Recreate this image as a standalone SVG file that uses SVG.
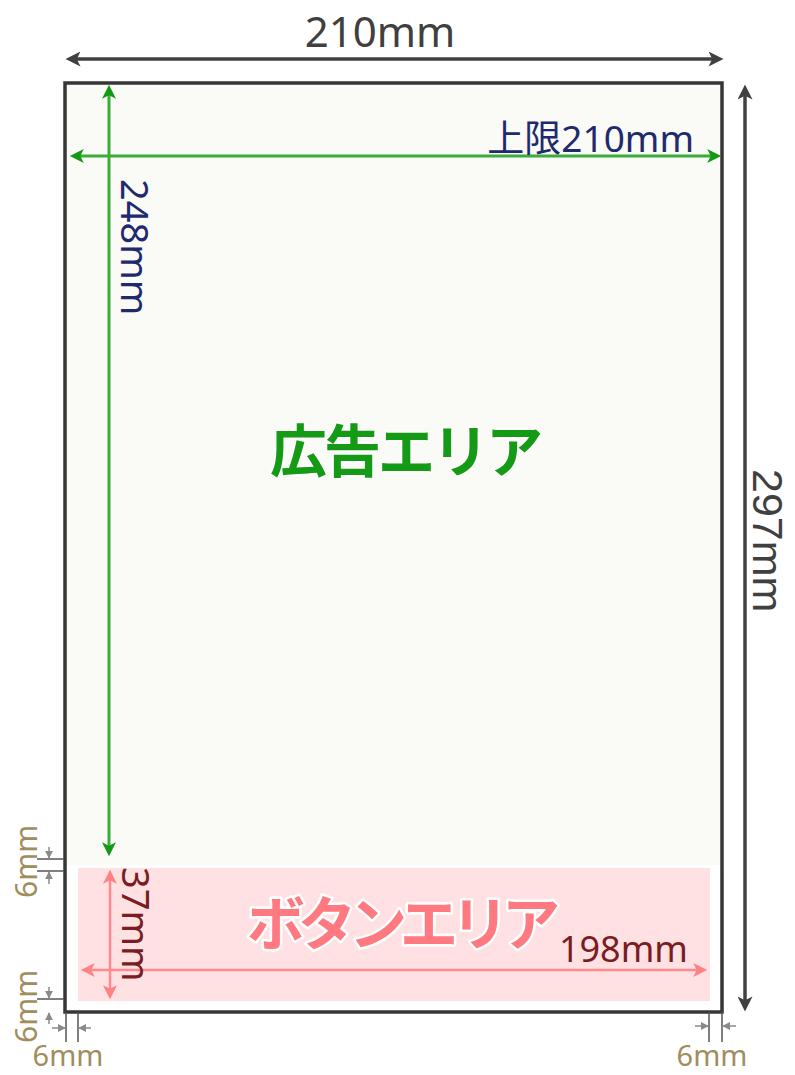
<svg xmlns="http://www.w3.org/2000/svg" width="795" height="1075" viewBox="0 0 795 1075">
<style>
.t{font-family:"Noto Sans","Noto Sans CJK JP",sans-serif}
.dk{fill:#404040}
.nv{fill:#1f2a6e}
.rd{fill:#7a1c22}
.tan{fill:#a08d5c}
.big{font-weight:bold}
</style>
<defs>
<marker id="ahDark" viewBox="0 0 10 10" refX="7" refY="5" markerWidth="17" markerHeight="15" markerUnits="userSpaceOnUse" orient="auto-start-reverse"><path d="M0,0 L10,5 L0,10 L2.5,5 z" fill="#404040"/></marker>
<marker id="ahGreen" viewBox="0 0 10 10" refX="7" refY="5" markerWidth="16" markerHeight="14" markerUnits="userSpaceOnUse" orient="auto-start-reverse"><path d="M0,0 L10,5 L0,10 L2.5,5 z" fill="#139a13"/></marker>
<marker id="ahPink" viewBox="0 0 10 10" refX="7" refY="5" markerWidth="16" markerHeight="14" markerUnits="userSpaceOnUse" orient="auto-start-reverse"><path d="M0,0 L10,5 L0,10 L2.5,5 z" fill="#ff8085"/></marker>
<marker id="ahGray" viewBox="0 0 10 10" refX="9" refY="5" markerWidth="8" markerHeight="8" markerUnits="userSpaceOnUse" orient="auto"><path d="M0,0 L10,5 L0,10 z" fill="#8a8a8a"/></marker>
</defs>

<g id="page">
<rect x="65" y="83" width="657" height="929" fill="#ffffff"/>
<rect x="65" y="83" width="657" height="782" fill="#fafaf6"/>
</g>

<g id="button-area">
<rect x="78" y="868" width="632" height="133" fill="#ffe1e3"/>
</g>

<g id="page-border">
<rect x="65" y="83" width="657" height="929" fill="none" stroke="#363636" stroke-width="3.5"/>
</g>

<g id="connectors" fill="none">
<line x1="70" y1="59" x2="719" y2="59" stroke="#404040" stroke-width="3.5" marker-start="url(#ahDark)" marker-end="url(#ahDark)"/>
<line x1="745" y1="89" x2="745" y2="1007" stroke="#404040" stroke-width="3.5" marker-start="url(#ahDark)" marker-end="url(#ahDark)"/>
<line x1="109" y1="89" x2="109" y2="852" stroke="#3aac3a" stroke-width="3" marker-start="url(#ahGreen)" marker-end="url(#ahGreen)"/>
<line x1="74" y1="156" x2="717" y2="156" stroke="#3aac3a" stroke-width="3" marker-start="url(#ahGreen)" marker-end="url(#ahGreen)"/>
<line x1="110" y1="874" x2="110" y2="995" stroke="#ff8a8e" stroke-width="2.5" marker-start="url(#ahPink)" marker-end="url(#ahPink)"/>
<line x1="85" y1="970" x2="703" y2="970" stroke="#ff8a8e" stroke-width="2.5" marker-start="url(#ahPink)" marker-end="url(#ahPink)"/>
<g stroke="#555" stroke-width="1.5">
<line x1="37" y1="859" x2="64" y2="859"/>
<line x1="37" y1="871" x2="64" y2="871"/>
<line x1="37" y1="999" x2="64" y2="999"/>
<line x1="66" y1="1012" x2="66" y2="1042"/>
<line x1="78" y1="1012" x2="78" y2="1042"/>
<line x1="709" y1="1012" x2="709" y2="1042"/>
<line x1="722" y1="1012" x2="722" y2="1042"/>
</g>
<g stroke="#8a8a8a" stroke-width="1.5">
<line x1="49" y1="847" x2="49" y2="858" marker-end="url(#ahGray)"/>
<line x1="49" y1="884" x2="49" y2="872" marker-end="url(#ahGray)"/>
<line x1="49" y1="987" x2="49" y2="998" marker-end="url(#ahGray)"/>
<line x1="49" y1="1024" x2="49" y2="1013" marker-end="url(#ahGray)"/>
<line x1="52" y1="1028" x2="65" y2="1028" marker-end="url(#ahGray)"/>
<line x1="91" y1="1028" x2="79" y2="1028" marker-end="url(#ahGray)"/>
<line x1="695" y1="1026" x2="708" y2="1026" marker-end="url(#ahGray)"/>
<line x1="736" y1="1026" x2="723" y2="1026" marker-end="url(#ahGray)"/>
</g>
</g>

<g id="labels">
<text class="t dk" x="380" y="47" font-size="42" text-anchor="middle">210mm</text>
<text class="dk" font-family="'Liberation Sans',sans-serif" font-size="43" transform="translate(753,469) rotate(90)">297mm</text>
<text class="t nv" x="694" y="152" font-size="37" text-anchor="end">上限210mm</text>
<text class="t nv" font-size="38" transform="translate(121,179) rotate(90)">248mm</text>
<text class="t rd" font-size="38" transform="translate(122,867) rotate(90)">37mm</text>
<text class="t rd" x="688" y="962" font-size="36" text-anchor="end">198mm</text>
<text class="t tan" font-size="30" transform="translate(37,898) rotate(-90)">6mm</text>
<text class="t tan" font-size="30" transform="translate(37,1043) rotate(-90)">6mm</text>
<text class="t tan" x="68" y="1066" font-size="29" text-anchor="middle">6mm</text>
<text class="t tan" x="712" y="1066" font-size="29" text-anchor="middle">6mm</text>
</g>

<g id="ad-area-title">
<text class="t big" x="405" y="472" font-size="57" text-anchor="middle" letter-spacing="-3" fill="#159a15" stroke="#ffffff" stroke-width="3" paint-order="stroke">広告エリア</text>
</g>
<g id="button-area-title">
<text class="t big" x="400" y="945" font-size="58" text-anchor="middle" letter-spacing="-7" fill="#ff7a80" stroke="#ffffff" stroke-width="5" stroke-linejoin="round" paint-order="stroke">ボタンエリア</text>
</g>
</svg>
